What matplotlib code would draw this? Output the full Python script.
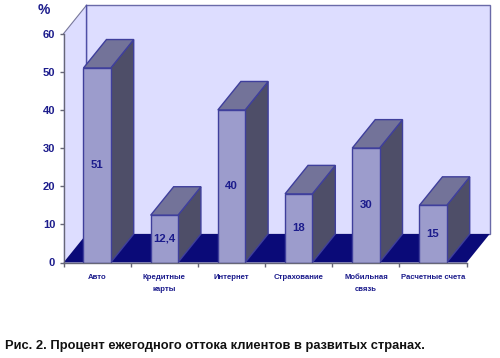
import matplotlib
matplotlib.use("Agg")
import matplotlib.pyplot as plt
from matplotlib.patches import Polygon

categories = ["Авто", "Кредитные\nкарты", "Интернет", "Страхование", "Мобильная\nсвязь", "Расчетные счета"]
values = [51, 12.4, 40, 18, 30, 15]
value_labels = ["51", "12,4", "40", "18", "30", "15"]
y_ticks = [0, 10, 20, 30, 40, 50, 60]
caption = "Рис. 2. Процент ежегодного оттока клиентов в развитых странах."

plt.rcParams["font.family"] = ["Liberation Sans", "DejaVu Sans"]

W, H = 500, 358
fig = plt.figure(figsize=(W / 100, H / 100), dpi=100, facecolor="white")
# axes box in pixels of the reference image
left, right, top, bottom = 63.5, 466.7, 33.7, 262.5
ax = fig.add_axes([left / W, 1 - bottom / H, (right - left) / W, (bottom - top) / H])

n = len(categories)
ax.set_xlim(0, n)
ax.set_ylim(0, 60)
ax.patch.set_visible(False)

# depth of the fake 3d, in data units
dx = 0.342
dy = 7.47
bar_w = 0.406

navy = "#1c1c8c"
edge = "#3f3f9c"
wall_edge = "#6a6aa8"

# walls and floor
ax.add_patch(Polygon([(dx, dy), (n + dx, dy), (n + dx, 60 + dy), (dx, 60 + dy)],
                     fc="#ddddff", ec=wall_edge, lw=1, clip_on=False, zorder=1))
ax.add_patch(Polygon([(0, 0), (dx, dy), (dx, 60 + dy), (0, 60)],
                     fc="#ddddff", ec="none", clip_on=False, zorder=1))
ax.plot([0, dx], [60, 60 + dy], color="#77779a", lw=0.8, clip_on=False, zorder=1.5)
ax.plot([dx, dx], [dy, 60 + dy], color="#4f4fa6", lw=1, clip_on=False, zorder=1.5)
ax.add_patch(Polygon([(0, 0), (n, 0), (n + dx, dy), (dx, dy)],
                     fc="#0a0a78", ec="none", clip_on=False, zorder=2))

# bars: front, then side and top faces
for i, v in enumerate(values):
    x0 = i + 0.5 - bar_w / 2
    x1 = x0 + bar_w
    ax.bar(i + 0.5, v, width=bar_w, color="#9c9ccc", edgecolor=edge, linewidth=1, zorder=4)
    ax.add_patch(Polygon([(x1, 0), (x1 + dx, dy), (x1 + dx, v + dy), (x1, v)],
                         fc="#4e4e68", ec=edge, lw=1, clip_on=False, zorder=3))
    ax.add_patch(Polygon([(x0, v), (x1, v), (x1 + dx, v + dy), (x0 + dx, v + dy)],
                         fc="#737399", ec=edge, lw=1, clip_on=False, zorder=3))
    ax.text(i + 0.5, v / 2, value_labels[i], ha="center", va="center",
            fontsize=8.2, color=navy, zorder=5, fontweight="bold")

# axes
for s in ["top", "right"]:
    ax.spines[s].set_visible(False)
for s in ["left", "bottom"]:
    ax.spines[s].set_color("#666677")
    ax.spines[s].set_linewidth(1)
    ax.spines[s].set_zorder(6)

ax.set_yticks(y_ticks)
ax.set_yticklabels([str(t) for t in y_ticks], fontsize=8, fontweight="bold", color=navy)
ax.tick_params(axis="y", length=3, width=1, color="#666677", pad=3)

ax.set_xticks(range(n + 1))
ax.set_xticklabels([])
ax.set_xticks([i + 0.5 for i in range(n)], minor=True)
ax.set_xticklabels(categories, minor=True, fontsize=5.6, fontweight="bold", color=navy, linespacing=1.9)
ax.tick_params(axis="x", which="major", length=3, width=1, color="#666677")
ax.tick_params(axis="x", which="minor", length=0, pad=8.5)

fig.text(44 / W, 1 - 10.5 / H, "%", ha="center", va="center", fontsize=10, fontweight="bold", color=navy)
fig.text(5 / W, 1 - 346.5 / H, caption, ha="left", va="center", fontsize=9.3, fontweight="bold", color="#111111")

fig.savefig("out.png", dpi=100)
